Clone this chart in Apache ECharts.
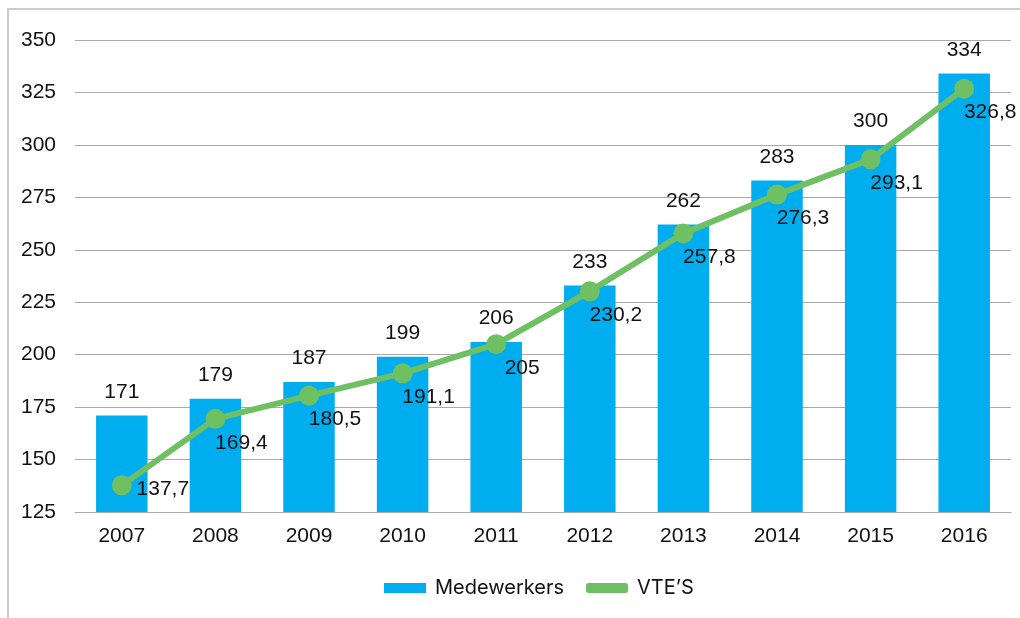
<!DOCTYPE html>
<html><head><meta charset="utf-8">
<script src="https://cdn.jsdelivr.net/npm/echarts@6/dist/echarts.min.js"></script>
<style>html,body{margin:0;padding:0;background:#fff}#c{width:1020px;height:618px}</style>
</head><body><div id="c"></div>
<script>
const years = ['2007','2008','2009','2010','2011','2012','2013','2014','2015','2016'];
const medewerkers = [171,179,187,199,206,233,262,283,300,334];
const vtes = [137.7,169.4,180.5,191.1,205,230.2,257.8,276.3,293.1,326.8];

const fmt = v => String(v).replace('.', ',');
const lineData = vtes.map((v,i) => i === 0
  ? {value: v, label: {offset: [41, 4]}}
  : {value: v});

const chart = echarts.init(document.getElementById('c'));
chart.setOption({
  animation: false,
  textStyle: {fontFamily: 'Liberation Sans, Arial, sans-serif'},
  graphic: [{
    type: 'rect', shape: {x: 8, y: 9, width: 1100, height: 1000},
    style: {fill: 'none', stroke: '#cccccc', lineWidth: 2}, z: -1
  }],
  grid: {left: 75, right: 9, top: 40, bottom: 106},
  legend: {
    top: 573, left: 379, itemWidth: 42, itemHeight: 10, itemGap: 22,
    textStyle: {fontSize: 20, color: '#111111', fontFamily: 'Inter, sans-serif', padding: [0, 0, 0, 4]},
    data: [{name: 'Medewerkers', icon: 'rect'}, {name: 'VTE\u2019S', icon: 'roundRect'}]
  },
  xAxis: {
    type: 'category', data: years,
    axisLine: {lineStyle: {color: '#aaaaaa'}},
    axisTick: {show: false},
    axisLabel: {fontSize: 21, color: '#111111', margin: 14}
  },
  yAxis: {
    type: 'value', min: 125, max: 350, interval: 25,
    axisLine: {show: false}, axisTick: {show: false},
    splitLine: {lineStyle: {color: '#aaaaaa', width: 1}},
    axisLabel: {fontSize: 21, color: '#111111', margin: 19}
  },
  series: [{
    name: 'Medewerkers', type: 'bar', data: medewerkers, barWidth: '55%',
    itemStyle: {color: '#00adef'},
    label: {show: true, position: 'top', distance: 13, fontSize: 21, color: '#111111'}
  }, {
    name: 'VTE\u2019S', type: 'line', data: lineData,
    symbol: 'circle', symbolSize: 20,
    lineStyle: {color: '#6fbf63', width: 6},
    itemStyle: {color: '#6fbf63'},
    label: {show: true, position: 'inside', offset: [26, 24], fontSize: 21, color: '#111111',
      formatter: p => fmt(p.value)}
  }]
});
</script></body></html>
